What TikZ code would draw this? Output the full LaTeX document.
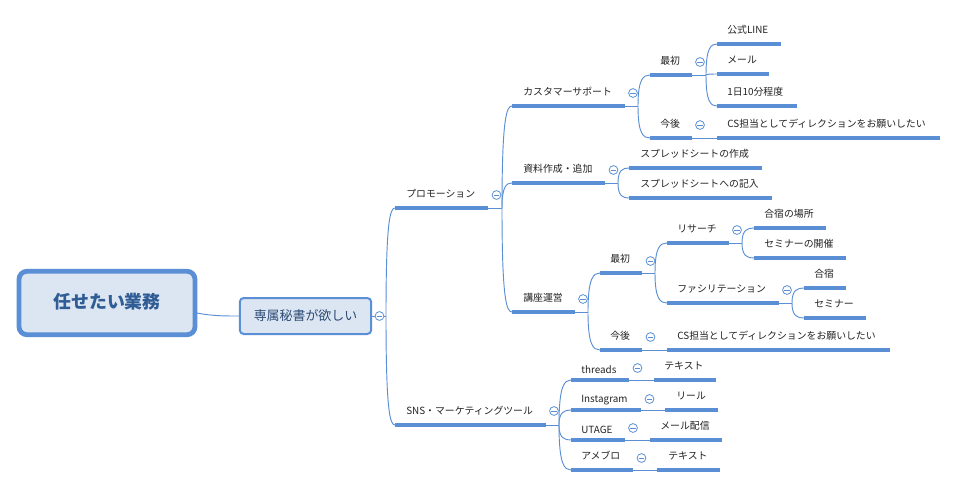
\documentclass[tikz,border=0pt]{standalone}
\usepackage{fontspec}
\setmainfont{Noto Sans CJK JP}
\usetikzlibrary{calc}
\definecolor{mapblue}{HTML}{5A8FD5}
\definecolor{mapfill}{HTML}{DCE6F2}
\definecolor{maptitle}{HTML}{2F5C94}
\definecolor{mapsub}{HTML}{2C4A75}
\definecolor{maptext}{HTML}{222222}
\tikzset{
  lbl/.style={anchor=west,inner sep=0pt,xshift=-0.7pt,yshift=-0.6pt,text=maptext,font=\fontsize{7.4}{9}\selectfont},
  barline/.style={draw=mapblue,line width=2.6pt,line cap=butt},
  thinline/.style={draw=mapblue,line width=0.7pt},
  rootbox/.style={draw=mapblue,fill=mapfill,line width=3.6pt,rounded corners=6pt,text=maptitle,font=\fontsize{13.4}{16}\selectfont\bfseries,inner sep=0pt},
  subbox/.style={draw=mapblue,fill=mapfill,line width=1.5pt,rounded corners=3pt,text=mapsub,font=\fontsize{9.7}{12}\selectfont,inner sep=0pt},
  circ/.style={circle,draw=mapblue,fill=white,line width=0.6pt,minimum size=6.6pt,inner sep=0pt},
  minusline/.style={draw=mapblue,line width=0.6pt}
}
% name, bar left, bar right, bar y, text x, text y, text
\newcommand{\topic}[7]{%
  \coordinate (#1-l) at (#2,#4);
  \coordinate (#1-r) at (#3,#4);
  \node[lbl] (#1) at (#5,#6) {#7};
  \draw[barline] (#1-l) -- (#1-r);
}
% parent, spine x
\newcommand{\spine}[2]{%
  \coordinate (#1-s) at (#2,0);
  \coordinate (#1-s) at (#1-s |- #1-r);
  \draw[thinline] (#1-r) -- (#1-s);
}
% parent, child
\newcommand{\branch}[2]{%
  \draw[thinline] (#1-s) .. controls ($(#1-s |- #2-l)!0.12!(#1-s)$) and ($(#1-s |- #2-l)!0.45!(#2-l)$) .. (#2-l);
}
% name, x, y
\newcommand{\collapse}[3]{%
  \node[circ] (#1-c) at (#2,#3) {};
  \draw[minusline] ($(#1-c.center)+(-2.6,0)$) -- ($(#1-c.center)+(2.6,0)$);
}
\begin{document}
\begin{tikzpicture}[x=0.75pt,y=-0.75pt]
\useasboundingbox (0,0) rectangle (958,487);
\fill[white] (0,0) rectangle (958,487);

% central boxes
\node[rootbox,minimum width=132pt,minimum height=47.6pt] (root) at (107,303) {\raisebox{3.5pt}{任せたい業務}};
\node[subbox,minimum width=98.6pt,minimum height=27pt] (sub) at (305.5,316) {\raisebox{1.5pt}{専属秘書が欲しい}};
\coordinate (rootout) at (197,313);
\draw[thinline] (rootout) .. controls (212,316) and (225,316) .. (sub.west);

% level 1
\topic{promo}{395}{488}{208}{407}{193}{プロモーション}
\topic{sns}{395}{546}{425}{407}{410}{SNS・マーケティングツール}
\coordinate (sub-r) at (sub.east);
\spine{sub}{386}
\branch{sub}{promo}
\branch{sub}{sns}

% promotion branch
\topic{cs}{512}{625}{106}{524}{91}{カスタマーサポート}
\topic{doc}{512}{605}{183}{524}{168}{資料作成・追加}
\topic{course}{512}{575}{312}{524}{297}{講座運営}
\spine{promo}{502}
\branch{promo}{cs}
\branch{promo}{doc}
\branch{promo}{course}

% customer support
\topic{first}{650}{692}{75}{661}{60}{最初}
\topic{later}{650}{692}{138}{661}{123}{今後}
\spine{cs}{638}
\branch{cs}{first}
\branch{cs}{later}
\topic{line}{717}{781}{44}{728}{29}{公式LINE}
\topic{mail}{717}{769}{74}{728}{59}{メール}
\topic{tenmin}{717}{797}{106}{728}{91}{1日10分程度}
\spine{first}{706}
\branch{first}{line}
\branch{first}{mail}
\branch{first}{tenmin}
\topic{csdir}{717}{940}{138}{728}{123}{CS担当としてディレクションをお願いしたい}
\draw[thinline] (later-r) -- (csdir-l);

% documents
\topic{sheeta}{629}{762}{168}{641}{153}{スプレッドシートの作成}
\topic{sheetb}{629}{772}{198}{641}{183}{スプレッドシートへの記入}
\spine{doc}{618}
\branch{doc}{sheeta}
\branch{doc}{sheetb}

% course
\topic{cfirst}{600}{642}{273}{611}{258}{最初}
\topic{clater}{600}{642}{350}{611}{335}{今後}
\spine{course}{588}
\branch{course}{cfirst}
\branch{course}{clater}
\topic{research}{667}{729}{243}{678}{228}{リサーチ}
\topic{facil}{667}{779}{303}{678}{288}{ファシリテーション}
\spine{cfirst}{655}
\branch{cfirst}{research}
\branch{cfirst}{facil}
\topic{place}{754}{826}{228}{765}{213}{合宿の場所}
\topic{held}{754}{846}{258}{765}{243}{セミナーの開催}
\spine{research}{742}
\branch{research}{place}
\branch{research}{held}
\topic{camp}{804}{846}{288}{815}{273}{合宿}
\topic{seminar}{804}{866}{318}{815}{303}{セミナー}
\spine{facil}{792}
\branch{facil}{camp}
\branch{facil}{seminar}
\topic{csdirb}{667}{890}{350}{678}{335}{CS担当としてディレクションをお願いしたい}
\draw[thinline] (clater-r) -- (csdirb-l);

% SNS
\topic{threads}{571}{629}{380}{582}{369}{threads}
\topic{insta}{571}{641}{410}{582}{399}{Instagram}
\topic{utage}{571}{625}{440}{582}{429}{UTAGE}
\topic{ameblo}{571}{633}{470}{582}{455}{アメブロ}
\spine{sns}{559}
\branch{sns}{threads}
\branch{sns}{insta}
\branch{sns}{utage}
\branch{sns}{ameblo}
\topic{ttext}{653.5}{716}{380}{665}{365}{テキスト}
\topic{reel}{665}{718}{410}{677}{395}{リール}
\topic{mailout}{650}{722}{440}{661}{425}{メール配信}
\topic{atext}{657}{720}{470}{669}{455}{テキスト}
\draw[thinline] (threads-r) -- (ttext-l);
\draw[thinline] (insta-r) -- (reel-l);
\draw[thinline] (utage-r) -- (mailout-l);
\draw[thinline] (ameblo-r) -- (atext-l);

% collapse markers
\collapse{m1}{379.5}{316}
\collapse{m2}{496.5}{195}
\collapse{m3}{633}{93}
\collapse{m4}{700}{62}
\collapse{m5}{700}{125}
\collapse{m6}{613.5}{170}
\collapse{m7}{583}{299}
\collapse{m8}{650.5}{261}
\collapse{m9}{650.5}{337}
\collapse{m10}{737}{230}
\collapse{m11}{787}{290}
\collapse{m12}{554}{411}
\collapse{m13}{637.5}{368}
\collapse{m14}{649.5}{399}
\collapse{m15}{633}{428}
\collapse{m16}{641.5}{458}
\end{tikzpicture}
\end{document}
